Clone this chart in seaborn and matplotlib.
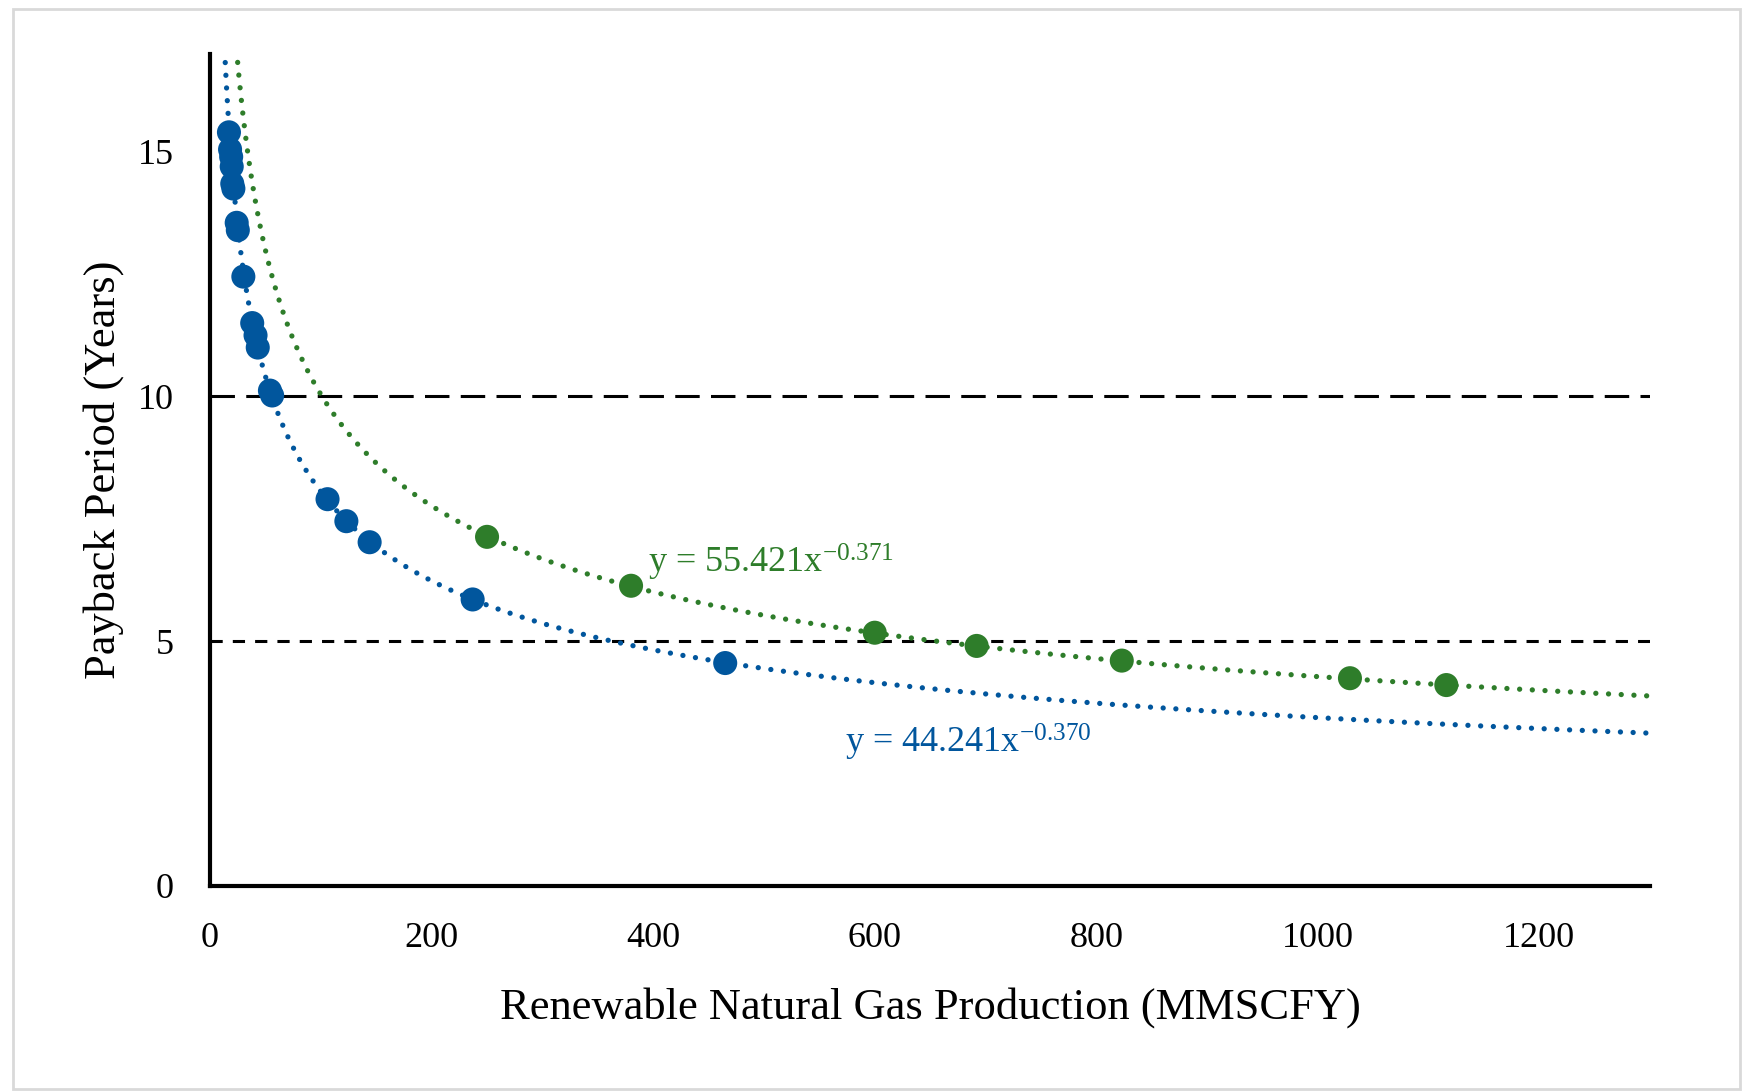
import numpy as np
import pandas as pd
import matplotlib
matplotlib.use("Agg")
import matplotlib.pyplot as plt
import seaborn as sns
from matplotlib.patches import Rectangle

# ---- data ----
blue_x = [17, 18, 19, 19.5, 20, 21, 24, 25, 30, 38, 41, 43, 54, 56, 106, 123, 144, 237, 465]
blue_y = [15.4, 15.05, 14.9, 14.7, 14.35, 14.25, 13.55, 13.4, 12.45, 11.5, 11.25, 11.0,
          10.12, 10.02, 7.9, 7.45, 7.02, 5.85, 4.55]
green_x = [250, 380, 600, 692, 823, 1029, 1116]
green_y = [7.13, 6.13, 5.17, 4.90, 4.60, 4.24, 4.10]
blue_fit = (44.241, -0.370)
green_fit = (55.421, -0.371)
x_ticks = [0, 200, 400, 600, 800, 1000, 1200]
y_ticks = [0, 5, 10, 15]
ref_lines = [10, 5]

BLUE = "#01569D"
GREEN = "#2E7D2A"

sns.set_theme(style="white")
plt.rcParams["font.family"] = ["Liberation Serif", "DejaVu Serif"]
plt.rcParams["mathtext.default"] = "regular"

fig = plt.figure(figsize=(17.51, 10.92), dpi=100)
ax = fig.add_axes([0.120, 0.189, 0.8224, 0.7615])

# reference dashed lines
ax.plot([0, 1300], [10, 10], color="black", lw=2.2, linestyle=(0, (8, 3.7)), zorder=1)
ax.plot([0, 1300], [5, 5], color="black", lw=2.2, linestyle=(0, (4, 3.3)), zorder=1)

# trend lines
xs = np.linspace(5, 1300, 2000)
for (a, b), c in [(blue_fit, BLUE), (green_fit, GREEN)]:
    ys = a * xs ** b
    ax.plot(xs, ys, color=c, lw=3.8, linestyle=(0, (0.01, 2.4)),
            dash_capstyle="round", zorder=2)

df_b = pd.DataFrame({"x": blue_x, "y": blue_y})
df_g = pd.DataFrame({"x": green_x, "y": green_y})
sns.scatterplot(data=df_b, x="x", y="y", ax=ax, color=BLUE, s=300, edgecolor="none", zorder=3)
sns.scatterplot(data=df_g, x="x", y="y", ax=ax, color=GREEN, s=300, edgecolor="none", zorder=3)

ax.text(395, 6.6, r"y = 55.421x$^{-0.371}$", color=GREEN, fontsize=26, va="center", ha="left")
ax.text(573, 2.92, r"y = 44.241x$^{-0.370}$", color=BLUE, fontsize=26, va="center", ha="left")

ax.set_xlim(0, 1300)
ax.set_ylim(0, 17)
ax.set_xticks(x_ticks)
ax.set_yticks(y_ticks)
ax.tick_params(axis="both", length=0, labelsize=26, pad=26, colors="black")
ax.set_xlabel("Renewable Natural Gas Production (MMSCFY)", fontsize=32, labelpad=23, color="black")
ax.set_ylabel("Payback Period (Years)", fontsize=32, labelpad=10, color="black")
for s in ["top", "right"]:
    ax.spines[s].set_visible(False)
for s in ["left", "bottom"]:
    ax.spines[s].set_color("black")
    ax.spines[s].set_linewidth(3)

fig.patches.append(Rectangle((13 / 1751, 3 / 1092), 1727 / 1751, 1080 / 1092,
                             transform=fig.transFigure, fill=False,
                             edgecolor="#d9d9d9", lw=2))

fig.savefig("out.png", dpi=100, facecolor="white")
